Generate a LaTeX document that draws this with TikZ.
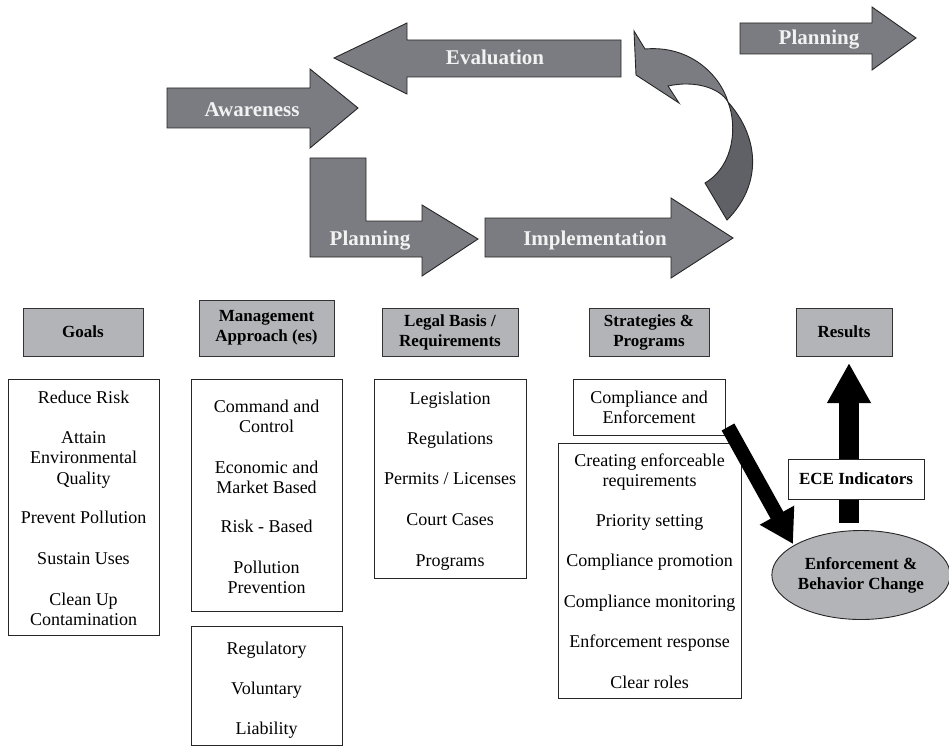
\documentclass[tikz,border=0pt]{standalone}
\usepackage{fontspec}
\setmainfont{Liberation Serif}
\usetikzlibrary{arrows.meta,shapes.geometric}
\definecolor{arrowgrey}{HTML}{7B7C81}
\definecolor{darkgrey}{HTML}{5F6166}
\definecolor{hdrgrey}{HTML}{B3B4B7}
\definecolor{lbltxt}{HTML}{F2F2F2}
\begin{document}
\begin{tikzpicture}[x=1pt,y=-1pt,
  blockarrow/.style={fill=arrowgrey, draw=black!85, line width=0.9pt, line join=miter},
  arrowlbl/.style={font=\fontsize{21}{24}\selectfont\bfseries, text=lbltxt, inner sep=0, anchor=base},
  hdr/.style={draw=black!80, line width=1pt, fill=hdrgrey, font=\fontsize{17}{20}\selectfont\bfseries, align=center, inner sep=0},
  listbox/.style={draw=black!85, line width=0.9pt, fill=white, inner sep=0},
  item/.style={font=\fontsize{18}{20}\selectfont, anchor=base, inner sep=0},
  fatarrow/.style={draw=black, line cap=butt},
]
\useasboundingbox (0,0) rectangle (949,746);

% ---------- top cycle arrows ----------
\draw[blockarrow] (167,88) -- (310,88) -- (310,69) -- (358,108) -- (310,148) -- (310,128) -- (167,128) -- cycle;
\node[arrowlbl] (lawareness) at (252,117) {Awareness};

\draw[blockarrow] (621,40) -- (407,40) -- (407,23) -- (334,58) -- (407,94) -- (407,77) -- (621,77) -- cycle;
\node[arrowlbl] (levaluation) at (495,65) {Evaluation};

\draw[blockarrow] (740,23) -- (872,23) -- (872,7) -- (916,38) -- (872,70) -- (872,54) -- (740,54) -- cycle;
\node[arrowlbl] (lplanningtop) at (819,45) {Planning};

\draw[blockarrow] (310,158) -- (366,158) -- (366,221) -- (422,221) -- (422,205) -- (478,239) -- (422,276) -- (422,257) -- (310,257) -- cycle;
\node[arrowlbl] (lplanning) at (370,245) {Planning};

\draw[blockarrow] (485,218) -- (671,218) -- (671,198) -- (733,238) -- (671,278) -- (671,257) -- (485,257) -- cycle;
\node[arrowlbl] (limplementation) at (595,245) {Implementation};

% curved return arrow
\draw[blockarrow] (634,31) -- (636,75) -- (679,103) -- (668,86)
  .. controls (695,80) and (720,88) .. (728,102)
  .. controls (720,75) and (690,45) .. (645,49) -- cycle;
\draw[blockarrow, fill=darkgrey] (728,102) .. controls (737,125) and (735,165) .. (705,183)
  -- (727,220) .. controls (762,185) and (760,138) .. (728,102) -- cycle;

% ---------- headers ----------
\node[hdr, minimum width=120pt, minimum height=48pt] (goals) at (83,332) {Goals};
\node[hdr, minimum width=135pt, minimum height=56pt] (mgmt) at (266.5,328) {Management\\Approach (es)};
\node[hdr, minimum width=136pt, minimum height=48pt] (legal) at (450,332) {Legal Basis /\\Requirements};
\node[hdr, minimum width=120pt, minimum height=48pt] (strat) at (649,332) {Strategies \&\\Programs};
\node[hdr, minimum width=96pt, minimum height=48pt] (results) at (844,332) {Results};

% ---------- list boxes ----------
\node[listbox, minimum width=151pt, minimum height=256pt] (goalslist) at (83.5,507) {};
\node[listbox, minimum width=151pt, minimum height=232pt] (mgmtlist) at (266.5,495) {};
\node[listbox, minimum width=151pt, minimum height=119pt] (mgmtlistb) at (266.5,685.5) {};
\node[listbox, minimum width=152pt, minimum height=199pt] (legallist) at (450,478.5) {};
\node[listbox, minimum width=152pt, minimum height=56pt] (compl) at (649,407) {};
\node[listbox, minimum width=183pt, minimum height=255pt] (stratlist) at (649.5,570.5) {};

% goals items
\node[item] (g1) at (83.5,403) {Reduce Risk};
\node[item] (g2) at (83.5,443) {Attain};
\node[item] (g3) at (83.5,463) {Environmental};
\node[item] (g4) at (83.5,484) {Quality};
\node[item] (g5) at (83.5,523) {Prevent Pollution};
\node[item] (g6) at (83.5,564) {Sustain Uses};
\node[item] (g7) at (83.5,605) {Clean Up};
\node[item] (g8) at (83.5,625) {Contamination};

% management items
\node[item] (m1) at (266.5,412) {Command and};
\node[item] (m2) at (266.5,432) {Control};
\node[item] (m3) at (266.5,473) {Economic and};
\node[item] (m4) at (266.5,493) {Market Based};
\node[item] (m5) at (266.5,532) {Risk - Based};
\node[item] (m6) at (266.5,573) {Pollution};
\node[item] (m7) at (266.5,593) {Prevention};
\node[item] (m8) at (266.5,654) {Regulatory};
\node[item] (m9) at (266.5,694) {Voluntary};
\node[item] (m10) at (266.5,734) {Liability};

% legal items
\node[item] (l1) at (450,404) {Legislation};
\node[item] (l2) at (450,444) {Regulations};
\node[item] (l3) at (450,484) {Permits / Licenses};
\node[item] (l4) at (450,525) {Court Cases};
\node[item] (l5) at (450,566) {Programs};

% strategies items
\node[item] (c1) at (649,403) {Compliance and};
\node[item] (c2) at (649,423) {Enforcement};
\node[item] (s1) at (649.5,466) {Creating enforceable};
\node[item] (s2) at (649.5,486) {requirements};
\node[item] (s3) at (649.5,526) {Priority setting};
\node[item] (s4) at (649.5,566) {Compliance promotion};
\node[item] (s5) at (649.5,607) {Compliance monitoring};
\node[item] (s6) at (649.5,647) {Enforcement response};
\node[item] (s7) at (649.5,688) {Clear roles};

% ---------- results side ----------
\node[ellipse, draw=black!85, line width=0.9pt, fill=hdrgrey, minimum width=177pt, minimum height=89pt, inner sep=0,
  font=\fontsize{17}{20}\selectfont\bfseries, align=center] (ebc) at (861,575) {Enforcement \&\\Behavior Change};

\coordinate (upstart) at (849,523);
\coordinate (upend) at (849,363);
\draw[fatarrow, line width=20pt, -{Triangle[length=40pt,width=41pt]}] (upstart) -- (upend);

\node[listbox, minimum width=136pt, minimum height=40pt, font=\fontsize{17}{20}\selectfont\bfseries] (ece) at (856,479) {ECE Indicators};

\coordinate (dstart) at (728,427);
\coordinate (dend) at (793,544);
\draw[fatarrow, line width=14.5pt, -{Triangle[length=33pt,width=37pt]}] (dstart) -- (dend);
\end{tikzpicture}
\end{document}
